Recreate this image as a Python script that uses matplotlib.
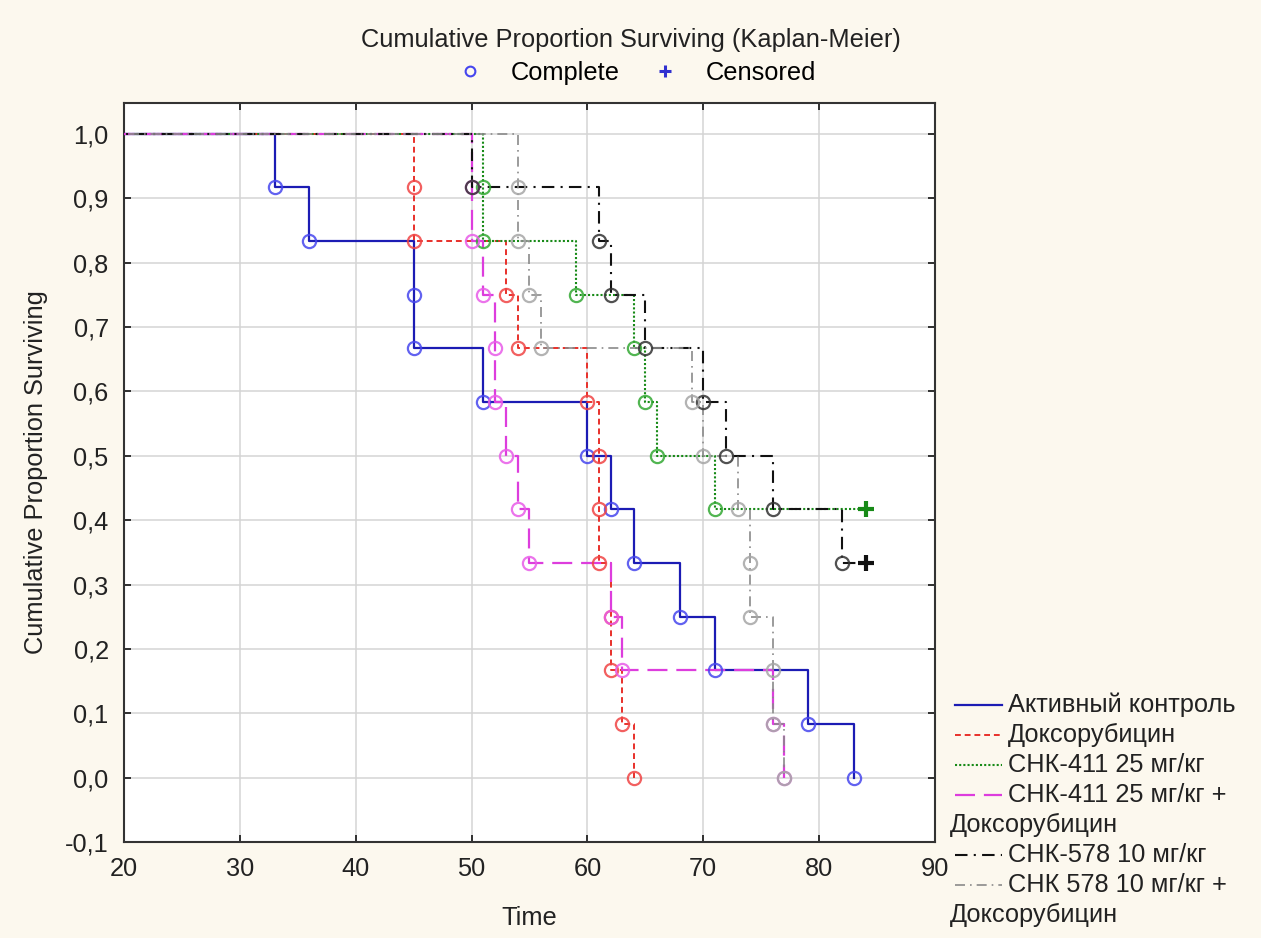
import matplotlib
matplotlib.use("Agg")
import matplotlib.pyplot as plt
import matplotlib.ticker as mtick
from matplotlib.lines import Line2D

plt.rcParams['font.family'] = ['Liberation Sans', 'DejaVu Sans']

# event times and survival after each event
blue_t = [33, 36, 45, 45, 51, 60, 62, 64, 68, 71, 79, 83]
blue_s = [0.917, 0.833, 0.75, 0.667, 0.583, 0.5, 0.417, 0.333, 0.25, 0.167, 0.083, 0.0]

red_t = [45, 45, 53, 54, 60, 61, 61, 61, 62, 62, 63, 64]
red_s = [0.917, 0.833, 0.75, 0.667, 0.583, 0.5, 0.417, 0.333, 0.25, 0.167, 0.083, 0.0]

green_t = [51, 51, 59, 64, 65, 66, 71]
green_s = [0.917, 0.833, 0.75, 0.667, 0.583, 0.5, 0.417]
green_cens = 84

mag_t = [50, 50, 51, 52, 52, 53, 54, 55, 62, 63, 76, 77]
mag_s = [0.917, 0.833, 0.75, 0.667, 0.583, 0.5, 0.417, 0.333, 0.25, 0.167, 0.083, 0.0]

black_t = [50, 61, 62, 65, 70, 72, 76, 82]
black_s = [0.917, 0.833, 0.75, 0.667, 0.583, 0.5, 0.417, 0.333]
black_cens = 84

gray_t = [54, 54, 55, 56, 69, 70, 73, 74, 74, 76, 76, 77]
gray_s = [0.917, 0.833, 0.75, 0.667, 0.583, 0.5, 0.417, 0.333, 0.25, 0.167, 0.083, 0.0]

labels = ["Активный контроль", "Доксорубицин", "СНК-411 25 мг/кг",
          "СНК-411 25 мг/кг +\nДоксорубицин", "СНК-578 10 мг/кг",
          "СНК 578 10 мг/кг +\nДоксорубицин"]

groups = [
    (blue_t, blue_s, None, '#1c1cb4', '#4646ee', '-', 1.6),
    (red_t, red_s, None, '#e8302a', '#f04444', (0, (3, 2)), 1.4),
    (green_t, green_s, green_cens, '#178a17', '#33a833', (0, (1, 1)), 1.5),
    (mag_t, mag_s, None, '#dd3ddd', '#e85ce8', (0, (9, 4)), 1.6),
    (black_t, black_s, black_cens, '#111111', '#333333', (0, (6, 3, 1, 3)), 1.5),
    (gray_t, gray_s, None, '#8a8a8a', '#a6a6a6', (0, (6, 3, 1, 3)), 1.2),
]

FS = 18.3
TXT = '#222222'

fig = plt.figure(figsize=(12.61, 9.38), dpi=100)
fig.patch.set_facecolor('#fcf8ee')
ax = fig.add_axes([0.0983, 0.1023, 0.6432, 0.7879])
ax.set_facecolor('white')

for t, s, cens, lc, mc, ls, lw in groups:
    xs = [0] + t
    ys = [1.0] + s
    if cens is not None:
        xs = xs + [cens]
        ys = ys + [s[-1]]
    ax.step(xs, ys, where='post', color=lc, linestyle=ls, linewidth=lw, zorder=3)
    ax.plot(t, s, 'o', mfc='none', mec=mc, mew=1.6, ms=9.5, alpha=0.85, zorder=4)
    if cens is not None:
        ax.plot([cens], [s[-1]], '+', color=lc, ms=11, mew=3, zorder=5)

ax.set_xlim(20, 90)
ax.set_ylim(-0.1, 1.048)
ax.set_xticks(range(20, 91, 10))
ax.set_yticks([i / 10 for i in range(-1, 11)])
ax.yaxis.set_major_formatter(mtick.FuncFormatter(lambda v, p: f"{v:.1f}".replace('.', ',')))
ax.grid(True, color='#d4d4d4', linewidth=1.1)
ax.set_axisbelow(True)
ax.tick_params(direction='in', top=True, right=True, length=5, width=1.3,
               labelsize=FS, colors=TXT)
ax.tick_params(axis='x', pad=11)
ax.tick_params(axis='y', pad=11)
for sp in ax.spines.values():
    sp.set_linewidth(1.5)
    sp.set_color('#333333')

ax.set_xlabel("Time", fontsize=FS, color=TXT, labelpad=18)
ax.set_ylabel("Cumulative Proportion Surviving", fontsize=FS, color=TXT, labelpad=12)

fig.text(0.5, 0.957, "Cumulative Proportion Surviving (Kaplan-Meier)",
         ha='center', va='center', fontsize=FS, color=TXT)
top_handles = [
    Line2D([], [], marker='o', ls='none', mfc='none', mec='#4646ee', mew=1.5, ms=7),
    Line2D([], [], marker='+', ls='none', color='#3030d0', mew=2.2, ms=8),
]
fig.legend(top_handles, ["Complete", "Censored"], loc='center', ncol=2,
           bbox_to_anchor=(0.5, 0.922), frameon=False, fontsize=FS,
           handletextpad=0.6, columnspacing=0.8)

# legend for the groups on the right
W, H = 1261, 938
row_y = [705, 735, 765, 795, 855, 885]
for (t, s, cens, lc, mc, ls, lw), lab, y in zip(groups, labels, row_y):
    fy = 1 - y / H
    fig.add_artist(Line2D([955 / W, 1002 / W], [fy, fy], color=lc, linestyle=ls,
                          linewidth=lw, transform=fig.transFigure))
    first, *rest = lab.split("\n")
    fig.text(1008 / W, fy, first, ha='left', va='center', fontsize=FS, color=TXT)
    if rest:
        fig.text(950 / W, 1 - (y + 30) / H, rest[0], ha='left', va='center',
                 fontsize=FS, color=TXT)

fig.savefig("out.png", dpi=100, facecolor=fig.get_facecolor())
